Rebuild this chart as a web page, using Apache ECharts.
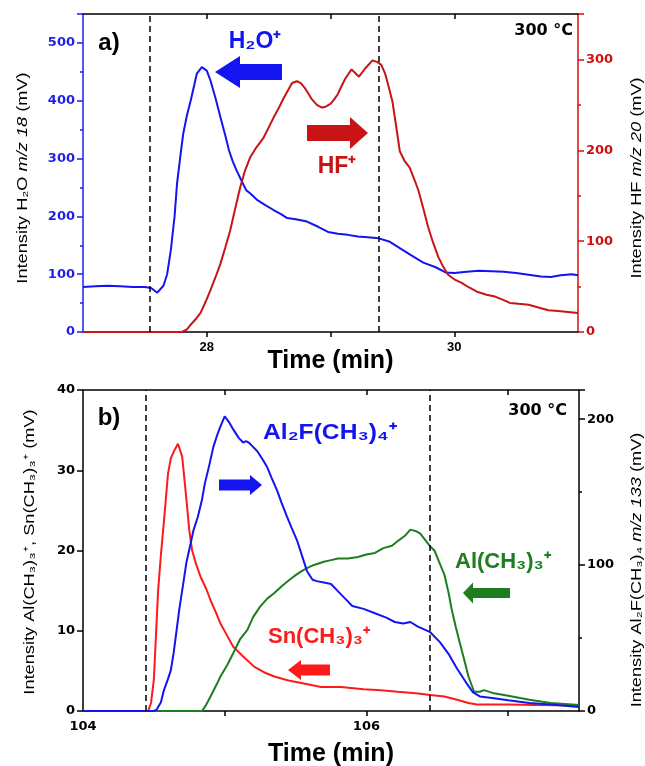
<!DOCTYPE html>
<html>
<head>
<meta charset="utf-8">
<script src="https://cdn.jsdelivr.net/npm/echarts@6/dist/echarts.min.js"></script>
<style>
  html, body { margin: 0; padding: 0; background: #fff; }
  #chart { width: 645px; height: 766px; }
</style>
</head>
<body>
<div id="chart"></div>
<script>
// panel a: time (min) vs intensity
var h2oA = [
  [27.00, 78], [27.10, 79], [27.20, 80], [27.30, 79], [27.40, 78], [27.50, 78], [27.55, 76],
  [27.60, 68], [27.65, 80], [27.68, 100], [27.71, 142], [27.74, 200], [27.76, 257], [27.79, 310],
  [27.81, 343], [27.84, 375], [27.87, 400], [27.92, 447], [27.96, 458], [28.00, 452], [28.03, 435],
  [28.07, 405], [28.11, 372], [28.15, 340], [28.18, 314], [28.21, 295], [28.24, 280], [28.28, 262],
  [28.32, 245], [28.35, 240], [28.41, 228], [28.47, 220], [28.54, 211], [28.60, 204], [28.65, 197],
  [28.72, 195], [28.81, 191], [28.90, 182], [28.98, 173], [29.06, 170], [29.14, 168], [29.22, 165],
  [29.30, 164], [29.39, 162], [29.48, 156], [29.56, 145], [29.65, 133], [29.75, 120], [29.85, 112],
  [29.93, 103], [30.00, 102], [30.10, 104], [30.20, 106], [30.30, 105], [30.40, 104], [30.50, 102],
  [30.60, 99], [30.70, 96], [30.78, 95], [30.86, 98], [30.95, 100], [31.00, 98]
];
var hfA = [
  [27.00, 0], [27.50, 0], [27.80, 0], [27.84, 3], [27.87, 8], [27.91, 14], [27.95, 21], [27.99, 33],
  [28.03, 46], [28.07, 60], [28.11, 75], [28.15, 93], [28.19, 112], [28.23, 136], [28.27, 159],
  [28.31, 178], [28.35, 192], [28.40, 203], [28.46, 214], [28.50, 225], [28.54, 236], [28.58, 246],
  [28.62, 257], [28.66, 267], [28.69, 274], [28.73, 276], [28.76, 274], [28.79, 269], [28.81, 265],
  [28.85, 256], [28.89, 250], [28.93, 247], [28.96, 248], [29.00, 251], [29.03, 256], [29.06, 262],
  [29.08, 268], [29.12, 279], [29.17, 289], [29.20, 285], [29.23, 281], [29.28, 290], [29.34, 299],
  [29.38, 297], [29.41, 294], [29.44, 285], [29.47, 270], [29.50, 254], [29.53, 227], [29.56, 199],
  [29.60, 188], [29.64, 181], [29.68, 167], [29.71, 156], [29.75, 136], [29.79, 115], [29.83, 98],
  [29.87, 83], [29.91, 72], [29.95, 63], [30.00, 58], [30.06, 54], [30.12, 49], [30.19, 44],
  [30.26, 41], [30.33, 39], [30.40, 35], [30.45, 32], [30.52, 31], [30.60, 30], [30.68, 27],
  [30.76, 24], [30.84, 23], [30.92, 22], [31.00, 21]
];
var dashA = [27.54, 29.39];

// panel b
var snB = [
  [104.00, 0], [104.46, 0], [104.48, 1], [104.50, 3.9], [104.53, 15], [104.55, 19.5], [104.57, 23.4],
  [104.60, 29.6], [104.62, 31.5], [104.64, 32.3], [104.67, 33.3], [104.70, 31.7], [104.73, 26.3],
  [104.75, 22.5], [104.77, 20], [104.80, 18.2], [104.83, 16.7], [104.87, 15.2], [104.90, 13.8],
  [104.94, 12.2], [104.97, 10.9], [105.02, 9.3], [105.06, 8.0], [105.13, 6.8], [105.21, 5.5],
  [105.28, 4.8], [105.35, 4.3], [105.45, 3.8], [105.54, 3.5], [105.62, 3.2], [105.68, 3.0],
  [105.82, 3.0], [105.98, 2.7], [106.10, 2.6], [106.22, 2.4], [106.35, 2.2], [106.45, 2.0],
  [106.55, 1.8], [106.64, 1.4], [106.72, 1.0], [106.78, 0.8], [107.00, 0.8], [107.20, 0.75], [107.50, 0.7]
];
var al2fB = [
  [104.00, 0], [104.50, 0], [104.52, 1], [104.55, 6], [104.57, 14], [104.60, 22], [104.62, 28],
  [104.64, 40], [104.66, 55], [104.68, 70], [104.71, 89], [104.73, 102], [104.76, 115], [104.78, 124],
  [104.81, 133], [104.84, 145], [104.86, 156], [104.89, 168], [104.92, 181], [104.95, 190], [104.97, 195],
  [105.00, 202], [105.03, 198], [105.06, 193], [105.10, 187], [105.13, 184], [105.15, 185], [105.17, 184],
  [105.20, 181], [105.23, 178], [105.27, 172], [105.30, 167], [105.33, 160], [105.37, 151], [105.40, 143],
  [105.44, 133], [105.47, 126], [105.51, 117], [105.54, 108], [105.58, 96], [105.62, 90], [105.65, 89],
  [105.70, 88], [105.75, 87], [105.80, 82], [105.85, 77], [105.90, 72], [105.98, 70], [106.06, 67],
  [106.14, 64], [106.20, 61], [106.26, 60], [106.31, 61], [106.36, 58], [106.45, 54], [106.52, 47],
  [106.58, 39], [106.64, 29], [106.70, 20], [106.75, 13], [106.80, 10], [106.90, 8.7], [107.00, 7.4],
  [107.15, 5.5], [107.30, 4.5], [107.50, 2.8]
];
var alB = [
  [104.00, 0], [104.84, 0], [104.87, 0.8], [104.90, 1.8], [104.94, 3.2], [104.97, 4.3], [105.02, 5.8],
  [105.06, 7.2], [105.11, 9.0], [105.16, 10.1], [105.20, 11.7], [105.25, 13.0], [105.30, 14.0],
  [105.35, 14.7], [105.40, 15.5], [105.44, 16.1], [105.49, 16.8], [105.54, 17.4], [105.58, 17.8],
  [105.63, 18.2], [105.70, 18.6], [105.75, 18.8], [105.80, 19.0], [105.87, 19.0], [105.94, 19.2],
  [106.00, 19.5], [106.06, 19.7], [106.12, 20.3], [106.18, 20.6], [106.23, 21.3], [106.27, 21.8],
  [106.31, 22.6], [106.35, 22.4], [106.38, 22.1], [106.42, 21.2], [106.45, 20.5], [106.48, 20.0],
  [106.51, 18.7], [106.55, 17.0], [106.58, 14.7], [106.60, 12.8], [106.63, 10.5], [106.66, 8.4],
  [106.69, 6.4], [106.72, 4.3], [106.76, 2.4], [106.80, 2.4], [106.83, 2.6], [106.90, 2.2],
  [107.00, 1.9], [107.15, 1.4], [107.30, 1.0], [107.50, 0.75]
];
var dashB = [104.435, 106.447];

// tick / label values
var ticksA = [28, 29, 30], labelsA = [28, 30];
var ticksB = [105, 106, 107], labelsB = [104, 106];

var FONT = '"Liberation Sans", Arial, sans-serif';
var WIDE = '"DejaVu Sans", sans-serif';
var BLUE = '#1414f0', RED_A = '#c81414', RED_B = '#ff1a1a', GREEN = '#1e7d1e';

function arrow(tx, ty, dir, L, h, H, b) {
    // dir = 1 points right, -1 points left
    var d = -dir;
    return [[tx, ty], [tx + d * h, ty - H], [tx + d * h, ty - b], [tx + d * L, ty - b],
            [tx + d * L, ty + b], [tx + d * h, ty + b], [tx + d * h, ty + H]];
}

function xAxisBottom(grid, min, max, ticks, labels, gap, labelFont) {
    return {
        type: 'value', gridIndex: grid, min: min, max: max, position: 'bottom',
        splitLine: { show: false },
        axisLine: { onZero: false, lineStyle: { color: '#000', width: 1.5 } },
        axisTick: { customValues: ticks, length: 5, lineStyle: { color: '#000', width: 1.5 } },
        axisLabel: { customValues: labels, margin: 9, color: '#000', fontWeight: 'bold', fontSize: 13, fontFamily: labelFont },
        name: 'Time (min)', nameLocation: 'middle', nameGap: gap, nameMoveOverlap: false,
        nameTextStyle: { color: '#000', fontWeight: 'bold', fontSize: 25, fontFamily: FONT }
    };
}
function xAxisTop(grid, min, max, ticks) {
    return {
        type: 'value', gridIndex: grid, min: min, max: max, position: 'top',
        splitLine: { show: false },
        axisLine: { onZero: false, lineStyle: { color: '#000', width: 1.5 } },
        axisTick: { customValues: ticks, inside: true, length: 5, lineStyle: { color: '#000', width: 1.5 } },
        axisLabel: { show: false }
    };
}
function yAxis(grid, pos, max, interval, minor, color, showMax) {
    return {
        type: 'value', gridIndex: grid, position: pos, min: 0, max: max, interval: interval,
        splitLine: { show: false },
        axisLine: { show: true, lineStyle: { color: color, width: 1.5 } },
        axisTick: { show: true, length: 6, lineStyle: { color: color, width: 1.5 } },
        minorTick: { show: minor, splitNumber: 2, length: 3, lineStyle: { color: color, width: 1.5 } },
        axisLabel: { showMaxLabel: showMax, margin: 8, color: color, fontWeight: 'bold', fontSize: 13, fontFamily: WIDE }
    };
}

function line(data, color, xi, yi) {
    return {
        type: 'line', data: data, xAxisIndex: xi, yAxisIndex: yi,
        showSymbol: false, symbol: 'none', animation: false,
        lineStyle: { color: color, width: 2 }, itemStyle: { color: color }
    };
}
function dashes(vals) {
    return {
        symbol: 'none', silent: true, animation: false,
        label: { show: false },
        lineStyle: { type: [6, 4], color: '#000', width: 1.5 },
        data: vals.map(function (v) { return { xAxis: v }; })
    };
}
// rotated axis title, stretched along the text like the original figure
function yTitle(x, y, text) {
    return {
        type: 'text', x: x, y: y, rotation: Math.PI / 2, scaleX: 1.3,
        style: {
            text: text, fill: '#000', fontSize: 14, fontFamily: FONT,
            align: 'center', verticalAlign: 'middle',
            rich: { i: { fontStyle: 'italic', fontSize: 14, fontFamily: FONT, fill: '#000' } }
        }
    };
}
function note(x, y, text, size, color, align, sx) {
    return {
        type: 'text', x: x, y: y, scaleX: sx || 1,
        style: { text: text, font: 'bold ' + size + 'px ' + FONT, fill: color, align: align, verticalAlign: 'middle' }
    };
}

var chart = echarts.init(document.getElementById('chart'));

var s1 = line(h2oA, BLUE, 0, 0);
s1.markLine = dashes(dashA);
var s3 = line(snB, RED_B, 2, 2);
s3.markLine = dashes(dashB);

var option = {
    animation: false,
    backgroundColor: '#fff',
    grid: [
        { left: 83, top: 14, width: 495, height: 318, containLabel: false, outerBoundsMode: 'none' },
        { left: 83, top: 390, width: 496, height: 321, containLabel: false, outerBoundsMode: 'none' }
    ],
    xAxis: [
        xAxisBottom(0, 27, 31, ticksA, labelsA, 17, FONT),
        xAxisTop(0, 27, 31, ticksA),
        xAxisBottom(1, 104, 107.5, ticksB, labelsB, 31, WIDE),
        xAxisTop(1, 104, 107.5, ticksB)
    ],
    yAxis: [
        yAxis(0, 'left', 550, 100, true, '#1f1fe6', false),
        yAxis(0, 'right', 350, 100, true, '#d01010', false),
        yAxis(1, 'left', 40, 10, false, '#000', true),
        yAxis(1, 'right', 220, 100, true, '#000', false)
    ],
    series: [
        s1,
        line(hfA, RED_A, 0, 1),
        s3,
        line(alB, GREEN, 2, 2),
        line(al2fB, BLUE, 2, 3)
    ],
    graphic: [
        yTitle(23, 178, 'Intensity H₂O {i|m/z 18} (mV)'),
        yTitle(637, 178, 'Intensity HF {i|m/z 20} (mV)'),
        yTitle(30, 552, 'Intensity Al(CH₃)₃⁺, Sn(CH₃)₃⁺ (mV)'),
        yTitle(637, 570, 'Intensity Al₂F(CH₃)₄ {i|m/z 133} (mV)'),

        note(109, 43, 'a)', 24, '#000', 'center'),
        { type: 'text', x: 573, y: 31, style: { text: '300 °C', font: 'bold 16px ' + WIDE, fill: '#000', align: 'right', verticalAlign: 'middle' } },
        note(255, 42, 'H₂O⁺', 23, BLUE, 'center'),
        note(337, 167, 'HF⁺', 23, RED_A, 'center'),
        { type: 'polygon', shape: { points: arrow(215, 72, -1, 67, 25, 16, 8) }, style: { fill: BLUE } },
        { type: 'polygon', shape: { points: arrow(368, 133, 1, 61, 18, 16, 8) }, style: { fill: RED_A } },

        note(109, 418, 'b)', 24, '#000', 'center'),
        { type: 'text', x: 567, y: 411, style: { text: '300 °C', font: 'bold 16px ' + WIDE, fill: '#000', align: 'right', verticalAlign: 'middle' } },
        note(263, 433, 'Al₂F(CH₃)₄⁺', 22, BLUE, 'left', 1.12),
        note(455, 562, 'Al(CH₃)₃⁺', 22, GREEN, 'left'),
        note(268, 637, 'Sn(CH₃)₃⁺', 22, RED_B, 'left'),
        { type: 'polygon', shape: { points: arrow(262, 485, 1, 43, 12, 10, 5.5) }, style: { fill: BLUE } },
        { type: 'polygon', shape: { points: arrow(463, 593, -1, 47, 10, 10.5, 5) }, style: { fill: GREEN } },
        { type: 'polygon', shape: { points: arrow(288, 670, -1, 42, 13, 10, 5.5) }, style: { fill: RED_B } }
    ]
};
chart.setOption(option);
window.addEventListener('resize', function () { chart.resize(); });
</script>
</body>
</html>
